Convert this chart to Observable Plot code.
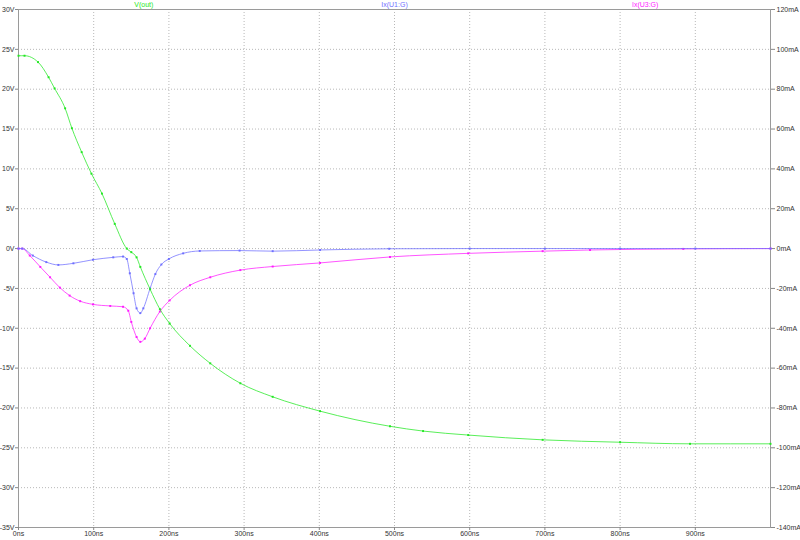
<!DOCTYPE html>
<html>
<head>
<meta charset="utf-8">
<script src="https://cdn.jsdelivr.net/npm/d3@7"></script>
<script src="https://cdn.jsdelivr.net/npm/@observablehq/plot@0.6"></script>
<style>
  html, body { margin: 0; padding: 0; background: #fff; }
  #chart svg { display: block; }
</style>
</head>
<body>
<div id="chart"></div>
<script>
// ---- data (time in ns) ----
const voutT = [0, 8, 26, 40, 48, 62, 71, 84, 97, 111, 128, 144, 150, 157, 162, 175, 188, 201, 228, 255, 295, 338, 401, 494, 538, 598, 697, 800, 893, 1000];
const voutV = [24.2, 24.2, 23.4, 21.5, 20.1, 17.6, 15.1, 12.1, 9.4, 6.9, 3.1, 0, -0.45, -1.1, -2.3, -5.1, -7.6, -9.4, -12.2, -14.4, -16.9, -18.6, -20.4, -22.3, -22.9, -23.4, -24.0, -24.3, -24.5, -24.5];

// Ix(U1:G) in mA
const iu1T = [0, 5, 19, 37, 53, 73, 99, 126, 139, 144, 148, 153, 157, 162, 166, 175, 182, 190, 200, 219, 241, 294, 338, 401, 493, 600, 700, 800, 900, 1000];
const iu1mA = [0, 0, -3.5, -6.8, -8.2, -7.4, -5.6, -4.4, -4.0, -5.2, -12.4, -22.4, -30, -32.4, -30, -20, -12.8, -8, -5.2, -2.4, -1.2, -1.0, -1.3, -0.7, -0.1, 0, 0, 0, 0, 0];

// Ix(U3:G) in mA
const iu3T = [0, 5, 15, 29, 42, 55, 68, 82, 99, 122, 139, 146, 150, 157, 162, 168, 175, 188, 201, 228, 255, 295, 338, 401, 494, 598, 697, 760, 884, 1000];
const iu3mA = [0, 0, -3.5, -9.2, -14.4, -19.6, -23.6, -26.4, -28, -28.8, -29.2, -31.2, -36.8, -44.4, -46.8, -45.2, -40, -31.6, -26, -18.4, -14.4, -10.8, -9.0, -7.2, -4.2, -2.4, -1.3, -0.7, -0.16, 0];

const xTicks = [0, 100, 200, 300, 400, 500, 600, 700, 800, 900];
const yTicksV = [30, 25, 20, 15, 10, 5, 0, -5, -10, -15, -20, -25, -30, -35];
const mAperV = 4; // right axis: 20mA per 5V

const seriesNames = ["V(out)", "Ix(U1:G)", "Ix(U3:G)"];
const seriesColors = ["#22e822", "#6f6fff", "#ff1cff"];

// ---- build tables ----
const vout = voutT.map((t, i) => ({t, y: voutV[i]}));
const iu1 = iu1T.map((t, i) => ({t, y: iu1mA[i] / mAperV}));
const iu3 = iu3T.map((t, i) => ({t, y: iu3mA[i] / mAperV}));
const legend = seriesNames.map((name, i) => ({name, color: seriesColors[i], t: 1000 * (i + 0.5) / 3}));

const font = "'Liberation Sans', Arial, sans-serif";

const chart = Plot.plot({
  width: 800,
  height: 540,
  marginLeft: 18,
  marginRight: 30,
  marginTop: 9,
  marginBottom: 13,
  x: {domain: [0, 1000], label: null},
  y: {domain: [-35, 30], label: null},
  style: {fontFamily: font, fontSize: "7px", background: "#fff", color: "#333"},
  marks: [
    Plot.gridX(xTicks.filter(d => d > 0), {stroke: "#b8b8b8", strokeOpacity: 1, strokeDasharray: "1,2"}),
    Plot.gridY(yTicksV.filter(d => d < 30 && d > -35), {stroke: "#b8b8b8", strokeOpacity: 1, strokeDasharray: "1,2"}),
    Plot.frame({stroke: "#9a9a9a"}),
    Plot.axisY(yTicksV, {anchor: "left", tickSize: 3, tickPadding: 1, tickFormat: d => d + "V", stroke: "#888", fill: "#333"}),
    Plot.axisY(yTicksV, {anchor: "right", tickSize: 4, tickPadding: 2, tickFormat: d => (d * mAperV) + "mA", stroke: "#888", fill: "#333"}),
    Plot.axisX(xTicks, {anchor: "bottom", tickSize: 3, tickPadding: 1, tickFormat: d => d + "ns", stroke: "#888", fill: "#333"}),
    Plot.line(iu3, {x: "t", y: "y", stroke: seriesColors[2], strokeWidth: 1, strokeOpacity: 0.75, curve: "monotone-x"}),
    Plot.dot(iu3, {x: "t", y: "y", symbol: "square", r: 1.1, fill: seriesColors[2], stroke: null}),
    Plot.line(iu1, {x: "t", y: "y", stroke: seriesColors[1], strokeWidth: 1, strokeOpacity: 0.75, curve: "monotone-x"}),
    Plot.dot(iu1, {x: "t", y: "y", symbol: "square", r: 1.1, fill: seriesColors[1], stroke: null}),
    Plot.line(vout, {x: "t", y: "y", stroke: seriesColors[0], strokeWidth: 1, strokeOpacity: 0.75, curve: "monotone-x"}),
    Plot.dot(vout, {x: "t", y: "y", symbol: "square", r: 1.1, fill: seriesColors[0], stroke: null}),
    Plot.text(legend, {x: "t", frameAnchor: "top", dy: -5, text: "name", fill: "color", fontSize: 7, lineAnchor: "middle"})
  ]
});
document.getElementById("chart").appendChild(chart);
</script>
</body>
</html>
